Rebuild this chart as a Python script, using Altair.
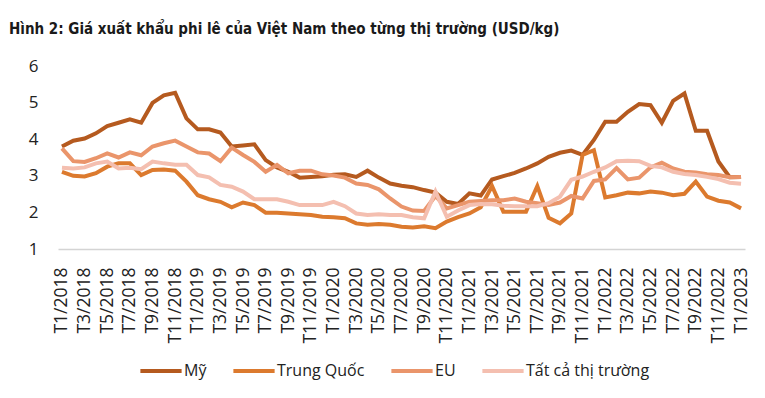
import altair as alt
import pandas as pd

# Monthly categories T1/2018 .. T1/2023
months = [f"T{m}/{y}" for y in range(2018, 2024) for m in range(1, 13)][:61]
tick_labels = months[::2]

series_names = ["Mỹ", "Trung Quốc", "EU", "Tất cả thị trường"]
colors = ["#B55A1F", "#DC7A2E", "#EA956B", "#F4BFB0"]

my = [3.80, 3.96, 4.02, 4.16, 4.36, 4.45, 4.54, 4.45, 4.99, 5.20,
      5.27, 4.57, 4.27, 4.27, 4.18, 3.80, 3.83, 3.86, 3.43, 3.23,
      3.11, 2.95, 2.97, 2.99, 3.03, 3.04, 2.97, 3.14, 2.95, 2.79,
      2.73, 2.69, 2.61, 2.54, 2.29, 2.23, 2.52, 2.46, 2.90, 2.99,
      3.08, 3.20, 3.34, 3.52, 3.63, 3.69, 3.57, 3.98, 4.48, 4.48,
      4.75, 4.96, 4.93, 4.45, 5.05, 5.25, 4.23, 4.23, 3.39, 2.96,
      2.97]
trung_quoc = [3.11, 3.00, 2.98, 3.07, 3.25, 3.34, 3.34, 3.02, 3.16, 3.17,
              3.14, 2.84, 2.47, 2.36, 2.29, 2.14, 2.27, 2.20, 1.99, 1.99,
              1.97, 1.95, 1.93, 1.88, 1.87, 1.84, 1.70, 1.66, 1.68, 1.66,
              1.61, 1.59, 1.62, 1.57, 1.75, 1.87, 1.97, 2.14, 2.72, 2.02,
              2.02, 2.02, 2.72, 1.85, 1.70, 1.97, 3.57, 3.70, 2.41, 2.47,
              2.54, 2.52, 2.57, 2.54, 2.47, 2.51, 2.84, 2.43, 2.32, 2.27,
              2.11]
eu = [3.75, 3.40, 3.38, 3.48, 3.61, 3.50, 3.64, 3.56, 3.80, 3.89,
      3.96, 3.80, 3.64, 3.61, 3.40, 3.77, 3.57, 3.38, 3.11, 3.30,
      3.07, 3.14, 3.14, 3.04, 3.01, 2.95, 2.79, 2.75, 2.63, 2.38,
      2.16, 2.05, 2.04, 2.45, 2.11, 2.20, 2.29, 2.31, 2.33, 2.33,
      2.38, 2.29, 2.25, 2.20, 2.27, 2.45, 2.38, 2.86, 2.90, 3.21,
      2.90, 2.95, 3.23, 3.36, 3.20, 3.11, 3.09, 3.04, 3.02, 2.96,
      2.97]
tat_ca = [3.22, 3.20, 3.23, 3.34, 3.39, 3.20, 3.22, 3.18, 3.39, 3.34,
          3.30, 3.30, 3.02, 2.96, 2.75, 2.70, 2.57, 2.36, 2.36, 2.36,
          2.29, 2.20, 2.20, 2.20, 2.29, 2.17, 1.97, 1.93, 1.95, 1.93,
          1.93, 1.87, 1.84, 2.57, 1.88, 2.05, 2.20, 2.23, 2.22, 2.18,
          2.17, 2.17, 2.17, 2.25, 2.43, 2.89, 2.98, 3.11, 3.23, 3.40,
          3.41, 3.40, 3.27, 3.23, 3.11, 3.05, 3.02, 2.97, 2.91, 2.81,
          2.78]

rows = []
for name, vals in zip(series_names, [my, trung_quoc, eu, tat_ca]):
    for m, v in zip(months, vals):
        rows.append({"month": m, "series": name, "value": v})
df = pd.DataFrame(rows)

label_font = "Open Sans"
title_font = "'DejaVu Sans Condensed', 'Liberation Sans Narrow', 'Roboto', sans-serif"

chart = alt.Chart(df).mark_line(strokeWidth=4).encode(
    x=alt.X("month:O", sort=months,
            scale=alt.Scale(type="point", padding=0.35, domain=months),
            axis=alt.Axis(values=tick_labels, labelAngle=-90, title=None,
                          ticks=False, domainColor="#d4d4d4", domainWidth=1.5,
                          labelFontSize=17.5, labelFont=label_font,
                          labelColor="#222222", labelPadding=18)),
    y=alt.Y("value:Q", scale=alt.Scale(domain=[1, 6], nice=False, zero=False),
            axis=alt.Axis(values=[1, 2, 3, 4, 5, 6], grid=False, domain=False,
                          ticks=False, title=None, labelFontSize=17,
                          labelFont=label_font, labelColor="#222222",
                          labelPadding=20)),
    color=alt.Color("series:N",
                    scale=alt.Scale(domain=series_names, range=colors),
                    legend=alt.Legend(title=None, orient="none", legendX=80,
                                      legendY=282, direction="horizontal",
                                      symbolType="stroke", symbolSize=1700,
                                      symbolStrokeWidth=4, labelFontSize=16,
                                      labelFont=label_font, labelColor="#222222",
                                      labelOffset=0, columnPadding=18,
                                      padding=0)),
).properties(
    width=687,
    height=183,
    title=alt.TitleParams(
        "Hình 2: Giá xuất khẩu phi lê của Việt Nam theo từng thị trường (USD/kg)",
        anchor="start", frame="group", dx=-49, fontSize=15,
        font=title_font, fontWeight="bold", color="#1a1a1a",
        baseline="alphabetic", offset=8),
    autosize=alt.AutoSizeParams(type="none"),
    padding={"left": 50, "top": 58, "right": 12, "bottom": 141},
).configure_view(stroke=None)

chart.save("out.html", embed_options={"renderer": "svg", "actions": False})
